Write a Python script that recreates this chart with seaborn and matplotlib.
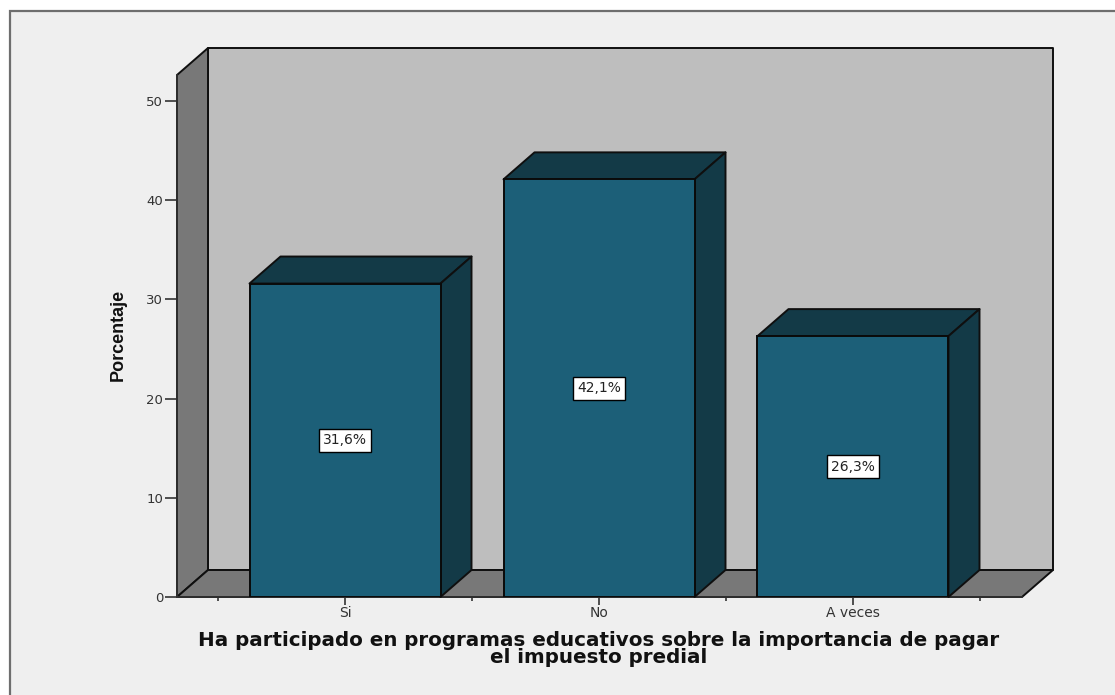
import matplotlib
matplotlib.use('Agg')
import matplotlib.pyplot as plt
import pandas as pd
import seaborn as sns
from matplotlib.patches import Polygon, Rectangle

categories = ['Si', 'No', 'A veces']
percentages = [31.6, 42.1, 26.3]
value_labels = ['31,6%', '42,1%', '26,3%']
y_ticks = [0, 10, 20, 30, 40, 50]

BAR_FRONT = '#1c5f78'
BAR_DARK = '#133a47'
WALL = '#bebebe'
SIDE = '#787878'
PANEL = '#efefef'

W, H = 1115, 695

sns.set_theme(style='white')
plt.rcParams['font.family'] = ['DejaVu Sans']

fig = plt.figure(figsize=(W / 100, H / 100), dpi=100, facecolor='white')

# grey panel behind the chart, runs off the right and bottom edges
fig.add_artist(Rectangle((10 / W, -0.02), 1.1, 1 - 11 / H + 0.02, transform=fig.transFigure,
                         facecolor=PANEL, edgecolor='#6e6e6e', linewidth=1.6, zorder=-1))

ax = fig.add_axes([177 / W, 1 - 597 / H, 845 / W, 522 / H], zorder=1)
ax.patch.set_alpha(0)

df = pd.DataFrame({'cat': categories, 'pct': percentages})
bar_w = 191 / 254
sns.barplot(data=df, x='cat', y='pct', order=categories, color=BAR_FRONT, saturation=1,
            width=bar_w, edgecolor='#0a0a0a', linewidth=1.4, ax=ax, zorder=5)

x0, x1 = -168 / 254, 2 + 169 / 254
ax.set_xlim(x0, x1)
y_top = 522 / 9.92
ax.set_ylim(0, y_top)

# depth of the fake 3D box, in data units
dx = 31 / 254
dy = 27 / 9.92


def face(points, color, z):
    ax.add_patch(Polygon(points, closed=True, facecolor=color, edgecolor='#0f0f0f',
                         linewidth=1.4, clip_on=False, zorder=z, joinstyle='round'))


face([(x0 + dx, dy), (x1 + dx, dy), (x1 + dx, y_top + dy), (x0 + dx, y_top + dy)], WALL, 1)
face([(x0, 0), (x0 + dx, dy), (x0 + dx, y_top + dy), (x0, y_top)], SIDE, 2)
face([(x0, 0), (x1, 0), (x1 + dx, dy), (x0 + dx, dy)], SIDE, 2)

for i, v in enumerate(percentages):
    left = i - bar_w / 2
    right = i + bar_w / 2
    face([(left, v), (right, v), (right + dx, v + dy), (left + dx, v + dy)], BAR_DARK, 4)
    face([(right, 0), (right + dx, dy), (right + dx, v + dy), (right, v)], BAR_DARK, 4)
    ax.text(i, v / 2, value_labels[i], ha='center', va='center', fontsize=10, color='#222222', zorder=7,
            bbox=dict(boxstyle='square,pad=0.32', facecolor='white', edgecolor='black', linewidth=1))

for s in ['top', 'right']:
    ax.spines[s].set_visible(False)
for s in ['left', 'bottom']:
    ax.spines[s].set_color('#333333')
    ax.spines[s].set_linewidth(1.2)
    ax.spines[s].set_zorder(3)

ax.set_yticks(y_ticks)
ax.set_xticks([0, 1, 2])
ax.set_xticklabels(categories)
ax.set_xticks([-0.5, 0.5, 1.5, 2.5], minor=True)
ax.tick_params(axis='y', length=8.5, width=1.2, color='#333333', labelsize=9.5, labelcolor='#333333', pad=1.5, left=True)
ax.tick_params(axis='x', which='major', length=5.8, width=1.2, color='#333333', labelsize=10,
               labelcolor='#333333', pad=0.5, bottom=True)
ax.tick_params(axis='x', which='minor', length=3, width=1.2, color='#333333', bottom=True)

ax.set_xlabel('')
ax.set_ylabel('')
fig.text(118 / W, 1 - 335 / H, 'Porcentaje', rotation=90, ha='center', va='center', fontsize=13,
         fontweight='bold', color='#111111', family=['Liberation Sans Narrow', 'Liberation Sans'])
fig.text(599 / W, 1 - 649 / H, 'Ha participado en programas educativos sobre la importancia de pagar\nel impuesto predial',
         ha='center', va='center', fontsize=14.3, fontweight='bold', color='#111111', linespacing=0.88,
         family=['DejaVu Sans'])

fig.savefig('out.png', dpi=100, facecolor='white')
